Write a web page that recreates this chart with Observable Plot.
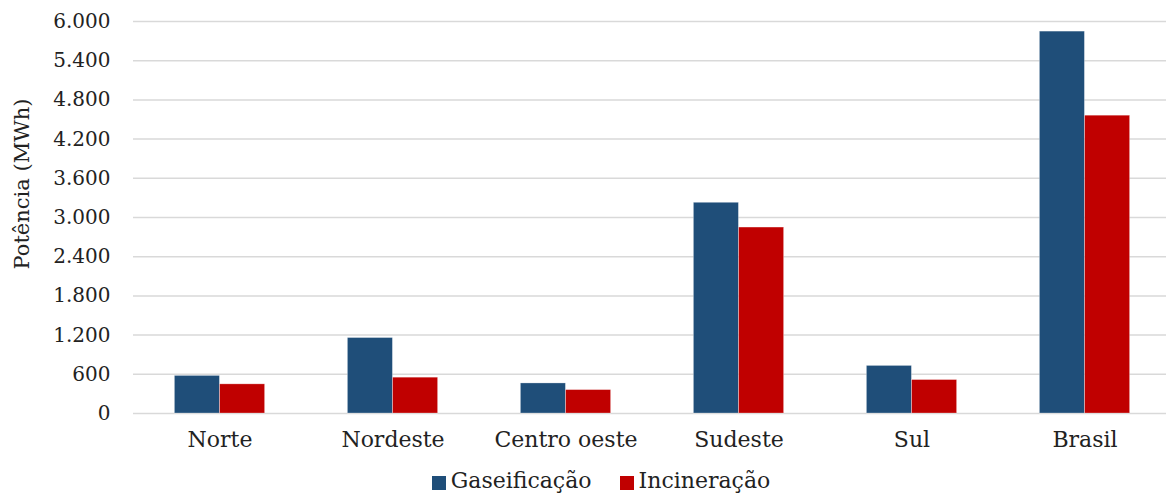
<!DOCTYPE html>
<html>
<head>
<meta charset="utf-8">
<script src="https://cdn.jsdelivr.net/npm/d3@7"></script>
<script src="https://cdn.jsdelivr.net/npm/@observablehq/plot@0.6"></script>
<style>
  html, body { margin: 0; padding: 0; background: #fff; }
  body { width: 1166px; height: 497px; position: relative; overflow: hidden; font-family: "DejaVu Serif", serif; color: #222; }
  #ylabel { position: absolute; left: 22px; top: 184px; transform: translate(-50%, -50%) rotate(-90deg); font-size: 21px; white-space: nowrap; }
  #legend { position: absolute; left: 18px; width: 1166px; top: 468px; display: flex; justify-content: center; gap: 28px; font-size: 22px; }
  .item { display: flex; align-items: center; gap: 5px; }
  .sw { width: 14px; height: 14px; display: inline-block; margin-top: 4px; }
</style>
</head>
<body>
<div id="chart"></div>
<div id="ylabel">Potência (MWh)</div>
<div id="legend"></div>
<script>
const regions = ["Norte", "Nordeste", "Centro oeste", "Sudeste", "Sul", "Brasil"];
const gaseificacao = [575, 1155, 460, 3225, 728, 5845];
const incineracao = [446, 548, 358, 2846, 512, 4558];
const seriesNames = ["Gaseificação", "Incineração"];
const seriesColors = ["#1f4e79", "#c00000"];
const yTicks = [0, 600, 1200, 1800, 2400, 3000, 3600, 4200, 4800, 5400, 6000];

const locale = d3.formatLocale({decimal: ",", thousands: ".", grouping: [3], currency: ["R$", ""]});
const fmt = locale.format(",d");

const gasData = regions.map((r, i) => ({region: r, value: gaseificacao[i], series: seriesNames[0]}));
const incData = regions.map((r, i) => ({region: r, value: incineracao[i], series: seriesNames[1]}));

const chart = Plot.plot({
  width: 1166,
  height: 462,
  marginLeft: 133,
  marginRight: 0,
  marginTop: 21,
  marginBottom: 49,
  style: {fontFamily: "DejaVu Serif, serif", fontSize: "19px", color: "#222", background: "#fff"},
  x: {domain: regions, range: [132, 1171], paddingInner: 0.74, paddingOuter: 0.37, label: null},
  y: {domain: [0, 6000], label: null},
  marks: [
    Plot.gridY(yTicks, {stroke: "#d9d9d9", strokeOpacity: 1, strokeWidth: 1.5}),
    Plot.barY(gasData, {x: "region", y: "value", fill: seriesColors[0], dx: -22.6, stroke: "#ffffff", strokeOpacity: 0.35, strokeWidth: 0.8}),
    Plot.barY(incData, {x: "region", y: "value", fill: seriesColors[1], dx: 22.6, stroke: "#ffffff", strokeOpacity: 0.35, strokeWidth: 0.8}),
    Plot.axisY(yTicks, {tickSize: 0, tickPadding: 23, tickFormat: fmt, fontSize: 20, fill: "#222"}),
    Plot.axisX({tickSize: 0, tickPadding: 18, fontSize: 22, fill: "#222"})
  ]
});
document.getElementById("chart").appendChild(chart);

const legend = document.getElementById("legend");
seriesNames.forEach((name, i) => {
  const it = document.createElement("div");
  it.className = "item";
  const sw = document.createElement("span");
  sw.className = "sw";
  sw.style.background = seriesColors[i];
  const t = document.createElement("span");
  t.textContent = name;
  it.appendChild(sw);
  it.appendChild(t);
  legend.appendChild(it);
});
</script>
</body>
</html>
